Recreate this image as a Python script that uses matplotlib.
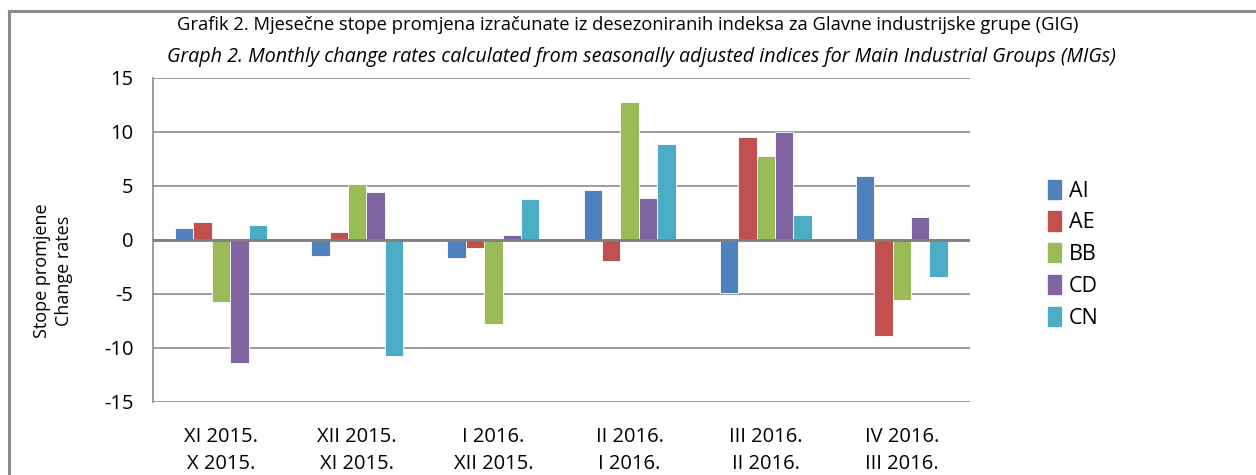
import matplotlib.pyplot as plt
import matplotlib.patches as mpatches
import numpy as np

plt.rcParams['font.family'] = ['Open Sans', 'DejaVu Sans']
plt.rcParams['axes.unicode_minus'] = False

# month-on-month pairs (current / previous)
cur_months = ["XI 2015.", "XII 2015.", "I 2016.", "II 2016.", "III 2016.", "IV 2016."]
prev_months = ["X 2015.", "XI 2015.", "XII 2015.", "I 2016.", "II 2016.", "III 2016."]

groups = ["AI", "AE", "BB", "CD", "CN"]
AI = [1.1, -1.5, -1.7, 4.6, -4.9, 5.9]
AE = [1.7, 0.7, -0.7, -1.9, 9.5, -8.9]
BB = [-5.7, 5.2, -7.8, 12.8, 7.8, -5.6]
CD = [-11.4, 4.4, 0.5, 3.9, 10.0, 2.1]
CN = [1.4, -10.7, 3.8, 8.9, 2.3, -3.4]
colors = ["#4F81BD", "#C0504D", "#9BBB59", "#8064A2", "#4BACC6"]

fig = plt.figure(figsize=(12.56, 4.75), dpi=100)
ax = fig.add_axes([0.1218, 0.1537, 0.6505, 0.6821])

x = np.arange(len(cur_months))
w = 0.135
series = [AI, AE, BB, CD, CN]
for i, (name, vals) in enumerate(zip(groups, series)):
    ax.bar(x + (i - 2) * w, vals, w, color=colors[i], label=name,
           edgecolor="white", linewidth=0.6, zorder=3)

ax.set_xlim(-0.5, len(cur_months) - 0.5)
ax.set_ylim(-15, 15)
ax.set_yticks(range(-15, 16, 5))
ax.yaxis.grid(True, color="#8c8c8c", linewidth=1.2, zorder=0)
ax.axhline(0, color="#7f7f7f", linewidth=2, zorder=4)
for s in ["top", "right", "bottom"]:
    ax.spines[s].set_visible(False)
ax.spines["left"].set_color("#8c8c8c")
ax.spines["left"].set_linewidth(1.2)
ax.tick_params(axis="y", length=0, pad=14, labelsize=14.5)
ax.tick_params(axis="x", length=0, pad=18, labelsize=14.5)
ax.set_xticks(x)
ax.set_xticklabels([c + "\n" + p for c, p in zip(cur_months, prev_months)],
                   linespacing=1.45)

fig.text(0.5, 0.947, "Grafik 2. Mjesečne stope promjena izračunate iz desezoniranih indeksa za Glavne industrijske grupe (GIG)",
         ha="center", va="center", fontsize=13.2)
fig.text(0.511, 0.88, "Graph 2. Monthly change rates calculated from seasonally adjusted indices for Main Industrial Groups (MIGs)",
         ha="center", va="center", fontsize=14.2, style="italic")

fig.text(0.042, 0.43, "Stope promjene\nChange rates", rotation=90,
         ha="center", va="center", fontsize=13, linespacing=1.3)

handles = [mpatches.Patch(color=c, label=g) for c, g in zip(colors, groups)]
fig.legend(handles=handles, loc="center left", bbox_to_anchor=(0.826, 0.465),
           frameon=False, fontsize=15.5, handlelength=0.6, handleheight=1.0,
           handletextpad=0.35, labelspacing=0.45, borderpad=0)

# outer frame (top and left edges visible)
fig.add_artist(plt.Line2D([0.0075, 0.0075], [0, 0.977], color="#8a8a8a",
                          linewidth=2.2, transform=fig.transFigure))
fig.add_artist(plt.Line2D([0.0075, 1.0], [0.977, 0.977], color="#8a8a8a",
                          linewidth=2.2, transform=fig.transFigure))

fig.savefig("out.png", dpi=100)
